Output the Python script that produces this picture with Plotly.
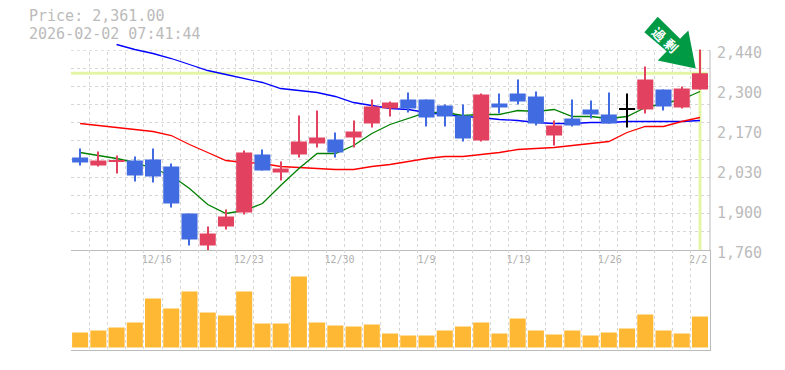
import plotly.graph_objects as go

# Categories / ticks
n_days = 35
indices = list(range(n_days))
tick_pos = [4.2, 9.25, 14.23, 19.0, 24.05, 29.05, 33.9]
tick_labels = ["12/16", "12/23", "12/30", "1/9", "1/19", "1/26", "2/2"]
price_ticks = [2440, 2304, 2168, 2032, 1896, 1760]
price_tick_labels = ["2,440", "2,300", "2,170", "2,030", "1,900", "1,760"]

# Candles
opens = [2074.5, 2047.3, 2060.9, 2064.3, 2067.7, 2043.9, 1884.1, 1775.3, 1839.9, 1887.5, 2084.7, 2023.5,
         2084.7, 2122.1, 2135.7, 2142.5, 2190.1, 2241.1, 2271.7, 2271.7, 2251.3, 2217.3, 2132.3, 2258.1,
         2292.1, 2281.9, 2149.3, 2207.1, 2237.7, 2220.7, 2237.7, 2237.7, 2305.7, 2244.5, 2305.7]
closes = [2057.5, 2064.3, 2064.3, 2013.3, 2009.9, 1918.1, 1795.7, 1816.1, 1873.9, 2091.5, 2030.3, 2037.1,
          2128.9, 2142.5, 2091.5, 2162.9, 2248.0, 2261.5, 2241.1, 2210.5, 2213.9, 2139.1, 2288.7, 2244.5,
          2264.9, 2190.1, 2183.3, 2183.3, 2220.7, 2190.1, 2241.1, 2339.7, 2247.9, 2309.1, 2361.0]
highs = [2105.1, 2094.9, 2081.3, 2077.9, 2105.1, 2054.1, 1884.1, 1839.9, 1897.7, 2098.3, 2101.7, 2060.9,
         2217.3, 2234.3, 2159.5, 2200.3, 2271.7, 2264.9, 2295.5, 2271.7, 2254.7, 2254.7, 2292.1, 2292.1,
         2339.7, 2298.9, 2200.3, 2271.7, 2268.3, 2295.5, 2292.1, 2383.9, 2305.7, 2315.9, 2441.7]
lows = [2047.3, 2043.9, 2020.1, 1992.9, 1989.5, 1904.5, 1775.3, 1758.3, 1829.7, 1880.7, 2030.3, 1996.3,
        2074.5, 2108.5, 2074.5, 2108.5, 2176.5, 2213.9, 2227.5, 2179.9, 2179.9, 2128.9, 2128.9, 2224.1,
        2254.7, 2183.3, 2115.3, 2179.9, 2207.1, 2190.1, 2176.5, 2224.1, 2234.3, 2241.1, 2305.7]

# Moving averages
ma_green = [2091.5, 2081.3, 2071.1, 2057.5, 2037.1, 2013.3, 1969.1, 1914.7, 1884.1, 1894.3, 1918.1, 1979.3,
            2037.1, 2088.1, 2088.1, 2115.3, 2156.1, 2186.7, 2207.1, 2227.5, 2227.5, 2217.3, 2220.7, 2220.7,
            2234.3, 2230.9, 2237.7, 2213.9, 2213.9, 2207.1, 2213.9, 2244.5, 2258.1, 2271.7, 2298.9]
ma_red = [2190.1, 2183.3, 2176.5, 2169.7, 2162.9, 2149.3, 2118.7, 2091.5, 2064.3, 2057.5, 2054.1, 2043.9,
          2040.5, 2037.1, 2033.7, 2033.7, 2043.9, 2050.7, 2060.9, 2071.1, 2077.9, 2077.9, 2084.7, 2091.5,
          2101.7, 2105.1, 2108.5, 2115.3, 2122.1, 2128.9, 2159.5, 2179.9, 2179.9, 2196.9, 2210.5]
ma_blue = [None, None, 2458.7, 2441.7, 2428.1, 2411.1, 2390.7, 2370.3, 2356.7, 2343.1, 2329.5, 2309.1,
           2302.3, 2295.5, 2281.9, 2261.5, 2251.3, 2241.1, 2237.7, 2227.5, 2220.7, 2213.9, 2210.5, 2203.7,
           2200.3, 2193.5, 2190.1, 2190.1, 2193.5, 2193.5, 2196.9, 2196.9, 2196.9, 2196.9, 2200.3]

volumes = [15000, 17000, 20000, 25000, 49000, 39000, 56000, 35000, 32000, 56000, 24000, 24000,
           71000, 25000, 22000, 21000, 23000, 14000, 12000, 12000, 17000, 21000, 25000, 14000,
           29000, 17000, 13000, 17000, 12000, 15000, 19000, 33000, 17000, 14000, 31000]
current_price = 2361.0

RED = "#E2425F"
BLUE = "#416BE1"
GREY = "#BBBBBB"
GRID = "#D6D6D6"
YELLOW = "#E4F5A6"
FONT = "DejaVu Sans Mono"
PRICE_RANGE = [1760, 2474]
SPLIT = 100 / 310

def colour(i):
    if i == 30:
        return "#000000"
    return RED if closes[i] >= opens[i] else BLUE

body_base = [min(o, c) for o, c in zip(opens, closes)]
body_height = [max(abs(c - o), 3.4) for o, c in zip(opens, closes)]
wick_height = [h - l for h, l in zip(highs, lows)]
colours = [colour(i) for i in indices]

fig = go.Figure()
# white band hides the grid above the top price gridline
fig.add_trace(go.Scatter(x=[-0.6, 34.6], y=[2458, 2458], mode="lines", line=dict(color="white", width=11),
                         xaxis="x", yaxis="y", hoverinfo="skip", cliponaxis=True))
fig.add_trace(go.Scatter(x=[-0.5, 34.4], y=[current_price, current_price], mode="lines",
                         line=dict(color=YELLOW, width=3), xaxis="x", yaxis="y", hoverinfo="skip"))
fig.add_trace(go.Scatter(x=[34, 34], y=[1760, 2440], mode="lines",
                         line=dict(color=YELLOW, width=3), xaxis="x", yaxis="y", hoverinfo="skip"))
for vals, col in ((ma_blue, "#0000FF"), (ma_red, "#FF0000"), (ma_green, "#008000")):
    fig.add_trace(go.Scatter(x=indices, y=vals, mode="lines", line=dict(color=col, width=1.3),
                             xaxis="x", yaxis="y"))
fig.add_trace(go.Bar(x=indices, y=wick_height, base=lows, width=0.06, marker=dict(color=colours, line_width=0),
                     xaxis="x", yaxis="y3"))
fig.add_trace(go.Bar(x=indices, y=body_height, base=body_base, width=0.88, marker=dict(color=colours, line_width=0),
                     xaxis="x", yaxis="y3"))
fig.add_trace(go.Bar(x=indices, y=volumes, width=0.88, marker=dict(color="#FFB833", line_width=0),
                     xaxis="x2", yaxis="y2"))

x_minor = dict(tick0=-0.5, dtick=1, showgrid=True, gridcolor=GRID, griddash="3px,3px", gridwidth=1, ticks="")
y_minor = dict(tick0=1760, dtick=680 / 11, showgrid=True, gridcolor=GRID, griddash="3px,3px", gridwidth=1, ticks="")
fig.update_layout(
    width=777, height=362, margin=dict(l=63, r=75, t=32, b=20, autoexpand=False),
    paper_bgcolor="white", plot_bgcolor="white", showlegend=False, barmode="overlay",
    font=dict(family=FONT, color=GREY),
    xaxis=dict(domain=[0, 1], range=[-0.5, 34.55], anchor="y", tickmode="array", tickvals=tick_pos,
               ticktext=tick_labels, tickfont=dict(size=10, color="#B0B0B0", family=FONT), showgrid=False,
               zeroline=False, showline=True, linecolor=GREY, linewidth=1, ticks="", minor=x_minor),
    xaxis2=dict(domain=[0, 1], range=[-0.5, 34.55], anchor="y2", matches="x", showticklabels=False, showgrid=False,
                zeroline=False, showline=True, linecolor=GREY, linewidth=1, ticks="", minor=x_minor),
    yaxis=dict(domain=[SPLIT, 1], range=PRICE_RANGE, side="right", anchor="x", tickmode="array",
               tickvals=price_ticks, ticktext=price_tick_labels, tickfont=dict(size=15, color=GREY, family=FONT),
               showgrid=False, zeroline=False, showline=False, ticks="",
               ticklabelstandoff=6, ticklabelshift=3, minor=y_minor),
    yaxis2=dict(domain=[0, SPLIT], range=[-2500, 97500], side="right", anchor="x2", showticklabels=False,
                showgrid=False, zeroline=False, showline=True, linecolor=GREY, linewidth=1, ticks=""),
    yaxis3=dict(overlaying="y", range=PRICE_RANGE, side="right", anchor="x", visible=False),
    shapes=[
        dict(type="line", xref="paper", yref="y", x0=1, x1=1, y0=1760, y1=2440, layer="above",
             line=dict(color=GREY, width=1)),
        dict(type="path", xref="paper", yref="paper", layer="above",
             path="M 0.8972 1.0251 L 0.9182 1.0749 L 0.9531 1.0039 L 0.9661 1.0306 L 0.9776 0.9080 L 0.9182 0.9339 L 0.9323 0.9639 Z",
             fillcolor="#009944", line_width=0),
    ],
    annotations=[
        dict(text="Price: 2,361.00", xref="paper", yref="paper", x=-0.0657, y=1.0774, xanchor="left", yanchor="middle",
             showarrow=False, xshift=-2, font=dict(size=15, color=GREY, family=FONT)),
        dict(text="2026-02-02 07:41:44", xref="paper", yref="paper", x=-0.0657, y=1.0193, xanchor="left", yanchor="middle",
             showarrow=False, xshift=-2, font=dict(size=15, color=GREY, family=FONT)),
        dict(text="<b>過</b>", xref="paper", yref="paper", x=0.9202, y=1.0210, xanchor="center", yanchor="middle",
             textangle=45, showarrow=False, font=dict(size=13, color="white", family="Noto Sans CJK JP")),
        dict(text="<b>剰</b>", xref="paper", yref="paper", x=0.9401, y=0.9823, xanchor="center", yanchor="middle",
             textangle=45, showarrow=False, font=dict(size=13, color="white", family="Noto Sans CJK JP")),
    ],
)
fig.write_html("out.html")
